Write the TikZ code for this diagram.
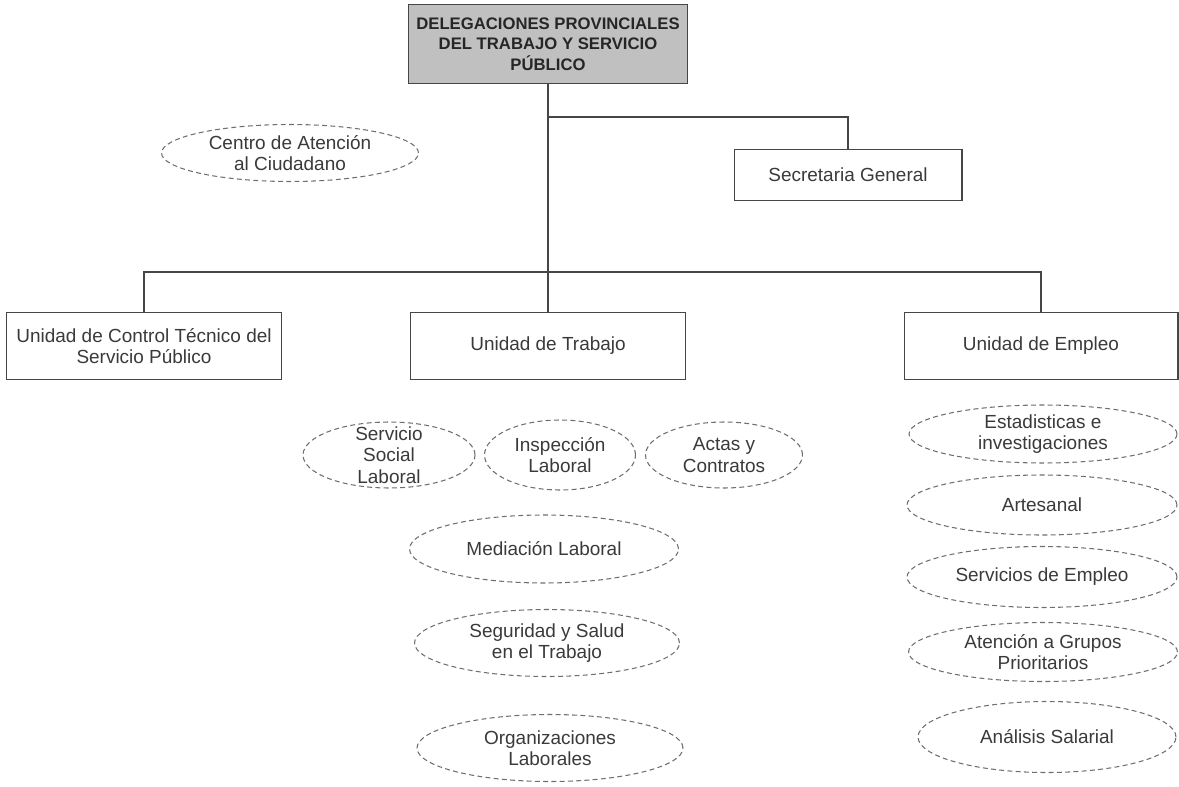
\documentclass[tikz,border=0pt]{standalone}
\usepackage{fontspec}
\setmainfont{Liberation Sans}
\usepackage{tikz}
\usetikzlibrary{positioning,shapes.geometric}
\definecolor{inkgray}{RGB}{58,58,58}
\definecolor{linegray}{RGB}{70,70,70}
\definecolor{dashgray}{RGB}{110,110,110}
\definecolor{headfill}{RGB}{192,192,192}
\tikzset{
head/.style={shape=rectangle, draw=linegray, line width=1pt, fill=headfill, text=black!85, font=\bfseries\fontsize{9.5}{11.6}\selectfont, align=center, minimum width=5.58cm, minimum height=1.58cm, inner sep=0pt},
unit/.style={shape=rectangle, draw=linegray, line width=0.6pt, text=inkgray, font=\fontsize{10.8}{12.2}\selectfont, align=center, minimum height=1.34cm, inner sep=0pt},
oval/.style={shape=ellipse, draw=dashgray, line width=0.6pt, dash pattern=on 2.8pt off 1.9pt, inner sep=0pt},
txt/.style={text=inkgray, font=\fontsize{10.8}{12.2}\selectfont, align=center, inner sep=0pt},
conn/.style={draw=linegray, line width=0.6pt}
}
\begin{document}
\begin{tikzpicture}[x=0.02cm, y=-0.02cm]
  \useasboundingbox (0,0) rectangle (1179,787);
  % cabecera
  \node[head] (deleg) at (548,44) {DELEGACIONES PROVINCIALES\\DEL TRABAJO Y SERVICIO\\P\'UBLICO};
  \node[unit, minimum width=4.56cm, minimum height=1.02cm] (secre) at (848,175) {Secretaria General};
  \node[oval, minimum width=5.14cm, minimum height=1.14cm, label={[txt]center:{Centro de Atenci\'on\\al Ciudadano}}] (centro) at (290,153) {};
  % unidades
  \node[unit, minimum width=5.5cm] (control) at (144,346) {Unidad de Control T\'ecnico del\\Servicio P\'ublico};
  \node[unit, minimum width=5.5cm] (trabajo) at (548,346) {Unidad de Trabajo};
  \node[unit, minimum width=5.48cm] (empleo) at (1041,346) {Unidad de Empleo};
  \coordinate (split) at (548,117);
  \coordinate (hub) at (548,272);
  \draw[conn] (deleg.south) -- (trabajo.north);
  \draw[conn] (split) -| (secre.north);
  \draw[conn] (control.north) |- (hub) -| (empleo.north);
  % areas de trabajo
  \node[oval, minimum width=3.44cm, minimum height=1.32cm, label={[txt]center:{Servicio\\Social\\Laboral}}] (social) at (389,455) {};
  \node[oval, minimum width=3.02cm, minimum height=1.4cm, label={[txt]center:{Inspecci\'on\\Laboral}}] (inspec) at (560,455) {};
  \node[oval, minimum width=3.14cm, minimum height=1.32cm, label={[txt]center:{Actas y\\Contratos}}] (actas) at (724,455) {};
  \node[oval, minimum width=5.38cm, minimum height=1.36cm, label={[txt]center:{Mediaci\'on Laboral}}] (mediac) at (544,549) {};
  \node[oval, minimum width=5.3cm, minimum height=1.34cm, label={[txt]center:{Seguridad y Salud\\en el Trabajo}}] (segur) at (547,643) {};
  \node[oval, minimum width=5.32cm, minimum height=1.34cm, label={[txt]center:{Organizaciones\\Laborales}}] (organiz) at (550,748) {};
  % areas de empleo
  \node[oval, minimum width=5.36cm, minimum height=1.16cm, label={[txt]center:{Estadisticas e\\investigaciones}}] (estad) at (1043,434) {};
  \node[oval, minimum width=5.4cm, minimum height=1.2cm, label={[txt]center:{Artesanal}}] (artes) at (1042,505) {};
  \node[oval, minimum width=5.4cm, minimum height=1.22cm, label={[txt]center:{Servicios de Empleo}}] (servic) at (1042,577) {};
  \node[oval, minimum width=5.38cm, minimum height=1.18cm, label={[txt]center:{Atenci\'on a Grupos\\Prioritarios}}] (atenc) at (1043,652) {};
  \node[oval, minimum width=5.16cm, minimum height=1.42cm, label={[txt]center:{An\'alisis Salarial}}] (analis) at (1047,737) {};
\end{tikzpicture}
\end{document}
